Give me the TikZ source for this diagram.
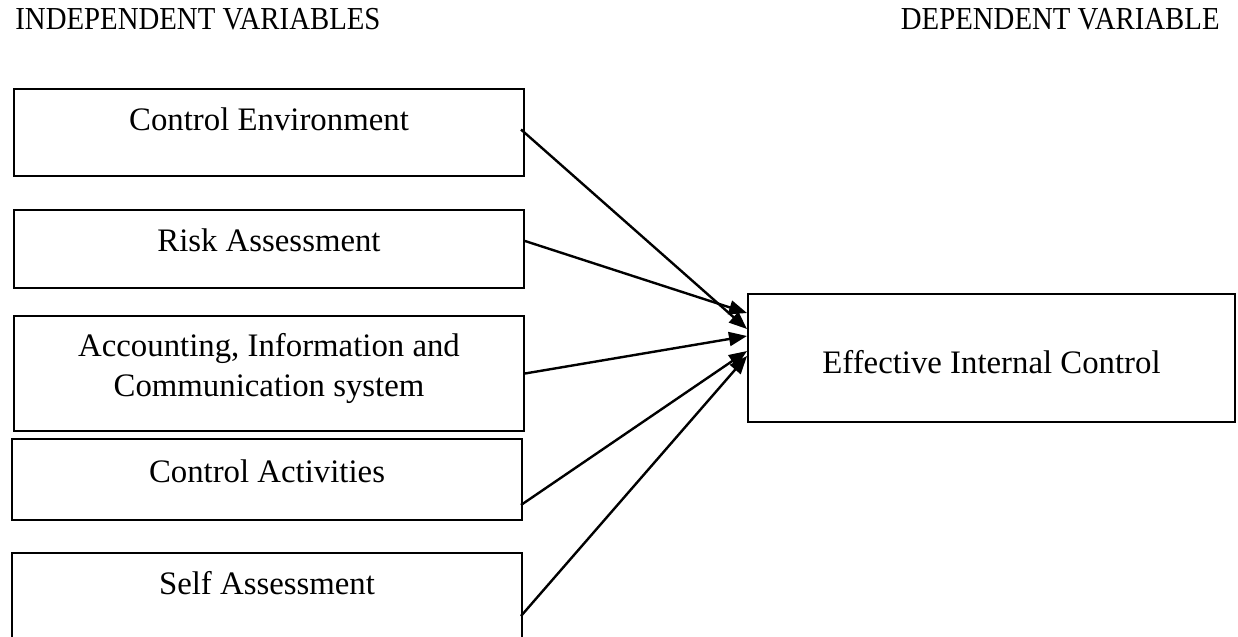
\documentclass[tikz,border=0pt]{standalone}
\usepackage{fontspec}
\setmainfont{Liberation Serif}
\usetikzlibrary{arrows.meta, positioning}

\begin{document}
\begin{tikzpicture}[
    x=0.5pt, y=-0.5pt,
    head/.style={inner sep=0pt, font=\fontsize{16}{19}\selectfont},
    box/.style={draw, line width=1pt, anchor=north west, align=center,
                inner sep=0pt, minimum width=255pt,
                font=\fontsize{16.4}{20}\selectfont},
    arr/.style={line width=1.2pt, -{Triangle[length=9pt, width=7pt]}}
]
\useasboundingbox (0,0) rectangle (1238,637);

\node[head, anchor=base west] (iv) at (15,30)   {\scalebox{0.9}[1]{INDEPENDENT VARIABLES}};
\node[head, anchor=base east] (dv) at (1220,30) {\scalebox{0.9}[1]{DEPENDENT VARIABLE}};

\node[box, text height=20.5pt, text depth=23pt]   (ce)  at (13,88)  {Control Environment};
\node[box, text height=20.5pt, text depth=18.5pt] (ra)  at (13,209) {Risk Assessment};
\node[box, text height=40pt, text depth=17.5pt]   (aic) at (13,315) {Accounting, Information and\\Communication system};
\node[box, text height=21.5pt, text depth=19pt]   (ca)  at (11,438) {Control Activities};
\node[box, text height=20.5pt, text depth=23pt]   (sa)  at (11,552) {Self Assessment};
\node[box, minimum width=243.5pt, text height=39.5pt, text depth=24.5pt] (eic) at (747,293) {Effective Internal Control};

\draw[arr] ([xshift=-2pt, yshift=1.5pt]ce.east)  -- ([yshift=14.5pt]eic.west);
\draw[arr] ([yshift=4pt]ra.east)                 -- ([yshift=22.5pt]eic.west);
\draw[arr] (aic.east)                            -- ([yshift=11pt]eic.west);
\draw[arr] ([xshift=-1pt, yshift=-12.75pt]ca.east) -- ([yshift=3.5pt]eic.west);
\draw[arr] ([xshift=-1pt, yshift=-9.75pt]sa.east)  -- ([yshift=1pt]eic.west);
\end{tikzpicture}
\end{document}
